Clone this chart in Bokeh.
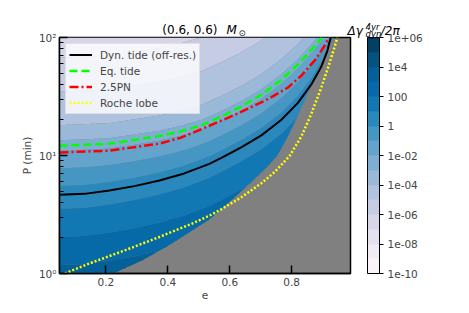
import numpy as np
from bokeh.plotting import figure
from bokeh.models import ColorBar, LinearColorMapper, FixedTicker, Label
from bokeh.embed import file_html
from bokeh.resources import INLINE

# ---------------- data ----------------
level_exponents = list(range(-10, 7))               # contour levels 1e-10 ... 1e6
cbar_ticks = [-10, -8, -6, -4, -2, 0, 2, 4, 6]
cbar_labels = ["1e-10", "1e-08", "1e-06", "1e-04", "1e-02", "1", "100", "1e4", "1e+06"]
x_ticks = [0.2, 0.4, 0.6, 0.8]
y_ticks = [1, 10, 100]
y_tick_labels = ["10⁰", "10¹", "10²"]

# Dyn. tide (off-res.) curve (e, P[min])
dyn_e = [0.05, 0.131, 0.211, 0.292, 0.373, 0.453, 0.534, 0.573, 0.637, 0.702, 0.766, 0.820, 0.863, 0.895, 0.915, 0.926]
dyn_P = [4.64, 4.73, 5.05, 5.50, 6.14, 7.05, 8.5, 9.55, 11.7, 14.8, 20.0, 27.9, 39.8, 56.2, 76.7, 100]
# Eq. tide
eq_e = [0.05, 0.211, 0.373, 0.44, 0.508, 0.573, 0.637, 0.702, 0.766, 0.820, 0.863, 0.898]
eq_P = [12.1, 12.6, 14.6, 16.0, 18.0, 21.4, 26.0, 32.7, 43.7, 58.9, 78.5, 100]
# 2.5PN
pn_e = [0.05, 0.211, 0.373, 0.44, 0.508, 0.616, 0.723, 0.788, 0.831, 0.879, 0.906, 0.921]
pn_P = [10.6, 11.0, 12.6, 14.1, 16.7, 22.1, 30.0, 37.7, 47.4, 66.1, 85.1, 100]
# Roche lobe
roche_e = [0.055, 0.066, 0.157, 0.265, 0.373, 0.480, 0.534, 0.573, 0.637, 0.702, 0.745, 0.793, 0.831, 0.863, 0.895, 0.922, 0.938, 0.948]
roche_P = [0.98, 1.0, 1.245, 1.585, 2.04, 2.66, 3.09, 3.51, 4.42, 5.82, 7.24, 9.89, 14.45, 22.4, 37.2, 60.3, 82.2, 100]
# edge of the excluded (grey) region
gray_e = [0.05, 0.227, 0.319, 0.405, 0.48, 0.534, 0.562, 0.615, 0.669, 0.723, 0.755, 0.787, 0.82, 0.852, 0.884, 0.911, 0.937]
gray_P = [0.55, 1.0, 1.29, 1.73, 2.31, 2.85, 3.31, 4.37, 5.89, 8.04, 10.0, 14.1, 21.4, 33.1, 51.9, 75.9, 100]
# log10(Δγ) read along the left edge, as a function of log10 P (band colours)
edge_logP = [0.0, 0.667, 1.04, 1.2, 2.0]
edge_logz = [3.3, 0.5, -2.0, -3.8, -6.6]

# ---------------- field ----------------
e_grid = np.linspace(0.05, 0.99, 400)
lp_grid = np.linspace(0.0, 2.0, 400)
E, LP = np.meshgrid(e_grid, lp_grid)
ld = np.interp(E, dyn_e, np.log10(dyn_P))
le = np.interp(E, eq_e, np.log10(eq_P))
w = np.clip((LP - ld) / np.maximum(le - ld, 1e-3), 0.0, 1.0)
shift = (1 - w) * (ld - np.log10(dyn_P[0])) + w * (le - np.log10(eq_P[0]))
xe = LP - shift
logz = np.interp(xe, edge_logP, edge_logz)
slope0 = (edge_logz[1] - edge_logz[0]) / (edge_logP[1] - edge_logP[0])
logz = np.where(xe < edge_logP[0], edge_logz[0] + slope0 * (xe - edge_logP[0]), logz)
edge = np.interp(E, gray_e, np.log10(gray_P), right=5.0)
logz[LP < edge] = np.nan

# PuBu colormap sampled at band centres
pubu = ["#fff7fb", "#ece7f2", "#d0d1e6", "#a6bddb", "#74a9cf", "#3690c0", "#0570b0", "#045a8d", "#023858"]
def _rgb(h):
    return np.array([int(h[i:i + 2], 16) for i in (1, 3, 5)], dtype=float)
anchors = np.array([_rgb(c) for c in pubu])
nb = len(level_exponents) - 1
palette = []
for i in range(nb):
    t = (i + 0.5) / nb * (len(pubu) - 1)
    k = min(int(t), len(pubu) - 2)
    f = t - k
    c = anchors[k] * (1 - f) + anchors[k + 1] * f
    palette.append("#%02x%02x%02x" % tuple(int(round(v)) for v in c))

FONT = "DejaVu Sans"

p = figure(width=469, height=313, x_range=(0.05, 0.99), y_range=(1, 100), y_axis_type="log",
           output_backend="svg", toolbar_location=None,
           min_border_left=58, min_border_top=37, min_border_bottom=40, min_border_right=119)
p.background_fill_color = "#808080"
p.border_fill_color = "white"
p.grid.visible = False
p.outline_line_color = "black"
p.outline_line_width = 1.5

p.contour(e_grid, 10 ** lp_grid, logz, levels=level_exponents, fill_color=palette, line_color=None)

p.line(dyn_e, dyn_P, color="black", line_width=2, legend_label="Dyn. tide (off-res.)")
p.line(eq_e, eq_P, color="#00ff00", line_width=2.5, line_dash="8 4", legend_label="Eq. tide")
p.line(pn_e, pn_P, color="red", line_width=2.5, line_dash="9 3 2 3", legend_label="2.5PN")
p.line(roche_e, roche_P, color="yellow", line_width=2.5, line_dash="2 2", legend_label="Roche lobe")

lg = p.legend[0]
lg.location = "top_left"
lg.margin = 6
lg.padding = 3
lg.spacing = 1
lg.glyph_width = 23
lg.glyph_height = 15
lg.label_height = 15
lg.label_standoff = 8
lg.label_text_font = FONT
lg.label_text_font_size = "10.5px"
lg.border_line_color = "#cccccc"
lg.background_fill_alpha = 0.8

for ax in (p.xaxis[0], p.yaxis[0]):
    ax.axis_line_width = 1.5
    ax.major_tick_line_width = 1.5
    ax.minor_tick_line_width = 1.2
    ax.major_tick_in = 8
    ax.major_tick_out = 0
    ax.minor_tick_in = 4
    ax.minor_tick_out = 0
    ax.major_label_text_font = FONT
    ax.major_label_text_font_size = "10.5px"
    ax.axis_label_text_font = FONT
    ax.axis_label_text_font_size = "10.5px"
    ax.axis_label_text_font_style = "normal"

p.xaxis.ticker = FixedTicker(ticks=x_ticks)
p.xaxis.axis_label = "e"
p.xaxis.major_label_standoff = 4
p.xaxis.axis_label_standoff = 2

minor_y = [m * 10 ** k for k in range(0, 2) for m in range(2, 10)]
p.yaxis.ticker = FixedTicker(ticks=y_ticks, minor_ticks=minor_y)
p.yaxis.major_label_overrides = dict(zip(y_ticks, y_tick_labels))
p.yaxis.axis_label = "P (min)"
p.yaxis.major_label_standoff = 3
p.yaxis.axis_label_standoff = 3

mapper = LinearColorMapper(palette=palette, low=level_exponents[0], high=level_exponents[-1])
cb = ColorBar(color_mapper=mapper, ticker=FixedTicker(ticks=cbar_ticks),
              major_label_overrides=dict(zip(cbar_ticks, cbar_labels)),
              width=12, height=236, location=(17, 0), padding=0, margin=0,
              bar_line_color="black", bar_line_width=1,
              major_tick_line_color="black", major_tick_in=0, major_tick_out=4,
              minor_tick_line_color=None, label_standoff=4,
              major_label_text_font=FONT, major_label_text_font_size="10.5px",
              background_fill_alpha=0, border_line_color=None)
p.add_layout(cb, "right")

def add_text(side, txt, x, y, size, style="normal", align="left"):
    # placed in a side panel so it is not clipped to the plot frame; position in canvas pixels
    p.add_layout(Label(x=x, y=y, x_units="canvas", y_units="canvas", text=txt,
                       text_font=FONT, text_font_size=size, text_font_style=style,
                       text_color="black",
                       text_align=align, text_baseline="alphabetic"), side)

# main title: (0.6, 0.6) M_sun
add_text("above", "(0.6, 0.6)", 217, 29, "12px", align="right")
add_text("left", "M", 226, 29, "12px", style="italic")
add_text("left", "⊙", 238, 32, "8.5px")
# colour-bar title: Δγ^{4yr}_{dyn}/2π  (gap left for the super/subscripts)
add_text("above", "Δγ\u2002\u2002\u2002/2π", 347, 30, "12px", style="italic")
add_text("right", "4yr", 365, 26, "8.5px", style="italic")
add_text("right", "dyn", 365, 33, "8.5px", style="italic")

open("out.html", "w").write(file_html(p, INLINE))
